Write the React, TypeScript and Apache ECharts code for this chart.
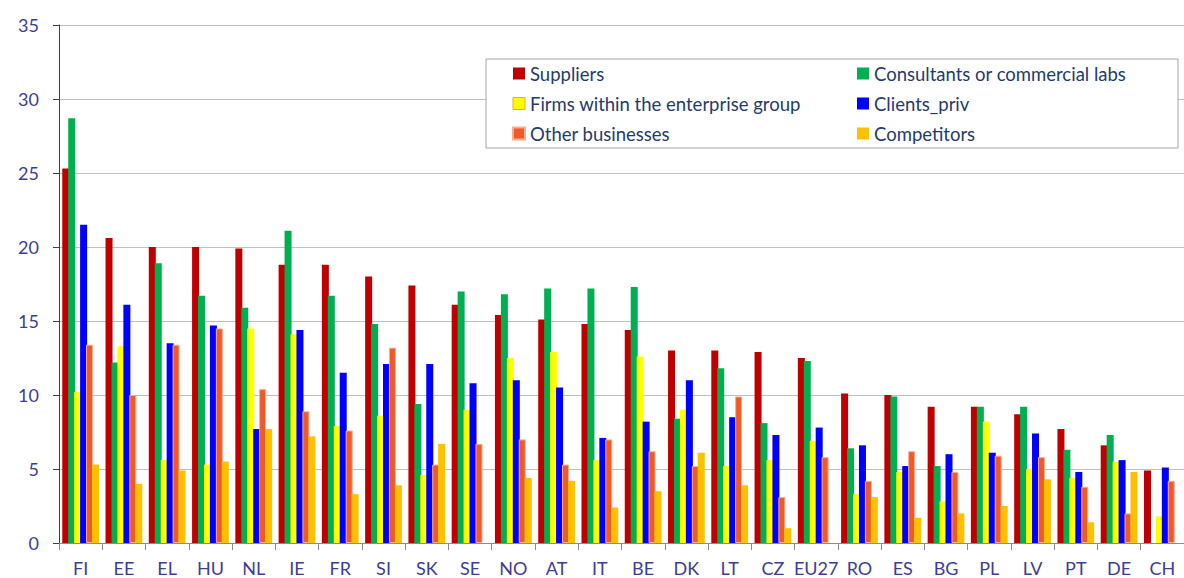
import React, { useEffect, useRef } from "react";
import * as echarts from "echarts";

const categories = ["FI", "EE", "EL", "HU", "NL", "IE", "FR", "SI", "SK", "SE", "NO", "AT", "IT", "BE", "DK", "LT", "CZ", "EU27", "RO", "ES", "BG", "PL", "LV", "PT", "DE", "CH"];

const suppliers = [25.3, 20.6, 20.0, 20.0, 19.9, 18.8, 18.8, 18.0, 17.4, 16.1, 15.4, 15.1, 14.8, 14.4, 13.0, 13.0, 12.9, 12.5, 10.1, 10.0, 9.2, 9.2, 8.7, 7.7, 6.6, 4.9];
const consultants = [28.7, 12.2, 18.9, 16.7, 15.9, 21.1, 16.7, 14.8, 9.4, 17.0, 16.8, 17.2, 17.2, 17.3, 8.4, 11.8, 8.1, 12.3, 6.4, 9.9, 5.2, 9.2, 9.2, 6.3, 7.3, null];
const firms = [10.2, 13.3, 5.6, 5.3, 14.5, 14.1, 7.9, 8.6, 4.6, 9.0, 12.5, 12.9, 5.6, 12.6, 9.0, 5.2, 5.6, 6.9, 3.3, 4.8, 2.8, 8.2, 5.0, 4.4, 5.5, 1.8];
const clients = [21.5, 16.1, 13.5, 14.7, 7.7, 14.4, 11.5, 12.1, 12.1, 10.8, 11.0, 10.5, 7.1, 8.2, 11.0, 8.5, 7.3, 7.8, 6.6, 5.2, 6.0, 6.1, 7.4, 4.8, 5.6, 5.1];
const otherBusinesses = [13.4, 10.0, 13.4, 14.5, 10.4, 8.9, 7.6, 13.2, 5.3, 6.7, 7.0, 5.3, 7.0, 6.2, 5.2, 9.9, 3.1, 5.8, 4.2, 6.2, 4.8, 5.9, 5.8, 3.8, 2.0, 4.2];
const competitors = [5.3, 4.0, 4.9, 5.5, 7.7, 7.2, 3.3, 3.9, 6.7, null, 4.4, 4.2, 2.4, 3.5, 6.1, 3.9, 1.0, null, 3.1, 1.7, 2.0, 2.5, 4.3, 1.4, 4.8, null];

const yTicks = { min: 0, max: 35, interval: 5 };

export default function App() {
  const ref = useRef<HTMLDivElement>(null);
  useEffect(() => {
    if (!ref.current) return;
    const chart = echarts.init(ref.current, null, { renderer: "svg" });
    const font = "Lato, 'Noto Sans', sans-serif";
    const axisColor = "#3D3D99";
    const legendText = { color: "#1F3B6E", fontSize: 18.5, fontFamily: font, lineHeight: 18 };
    const mk = (name: string, data: (number | null)[], color: string, extra: any = {}) => ({
      name,
      type: "bar",
      data,
      barWidth: 7,
      barGap: "-15%",
      itemStyle: { color, ...extra },
      emphasis: { disabled: true },
    });
    const legendBase = {
      z: 10,
      orient: "vertical",
      top: 64,
      padding: 0,
      icon: "rect",
      itemWidth: 12,
      itemHeight: 12,
      itemGap: 11,
      textStyle: legendText,
    };
    chart.setOption({
      animation: false,
      grid: { left: 59, top: 25, width: 1137, height: 518, containLabel: false },
      xAxis: {
        type: "category",
        data: categories,
        axisLine: { show: true, lineStyle: { color: "#8C8C8C", width: 1 } },
        axisTick: { show: true, length: 7, interval: 0, lineStyle: { color: "#8C8C8C" } },
        axisLabel: { interval: 0, margin: 16, color: axisColor, fontSize: 18, fontFamily: font },
      },
      yAxis: {
        type: "value",
        min: yTicks.min,
        max: yTicks.max,
        interval: yTicks.interval,
        axisLine: { show: true, lineStyle: { color: "#404040", width: 1 } },
        axisTick: { show: true, length: 6, lineStyle: { color: "#404040" } },
        axisLabel: { margin: 20, color: axisColor, fontSize: 18, fontFamily: font },
        splitLine: { show: true, lineStyle: { color: "#C0C0C0", width: 1 } },
      },
      graphic: [
        {
          type: "rect",
          z: 3,
          shape: { x: 486, y: 59, width: 692, height: 89 },
          style: { fill: "#ffffff", stroke: "#A6A6A6", lineWidth: 1 },
        },
      ],
      legend: [
        {
          ...legendBase,
          left: 512,
          data: [
            { name: "Suppliers" },
            { name: "Firms within the enterprise group", itemStyle: { borderColor: "#F5A623", borderWidth: 1 } },
            { name: "Other businesses" },
          ],
        },
        {
          ...legendBase,
          left: 857,
          data: [{ name: "Consultants or commercial labs" }, { name: "Clients_priv" }, { name: "Competitors" }],
        },
      ],
      series: [
        mk("Suppliers", suppliers, "#C00000"),
        mk("Consultants or commercial labs", consultants, "#00B050"),
        mk("Firms within the enterprise group", firms, "#FFFF00"),
        mk("Clients_priv", clients, "#0000FF"),
        mk("Other businesses", otherBusinesses, "#F05A28", { borderColor: "#F9AE90", borderWidth: 1 }),
        mk("Competitors", competitors, "#FFC000"),
      ],
    });
    return () => chart.dispose();
  }, []);
  return (
    <div
      ref={ref}
      style={{ position: "fixed", left: 0, top: 0, width: 1184, height: 578, background: "#ffffff" }}
    />
  );
}
